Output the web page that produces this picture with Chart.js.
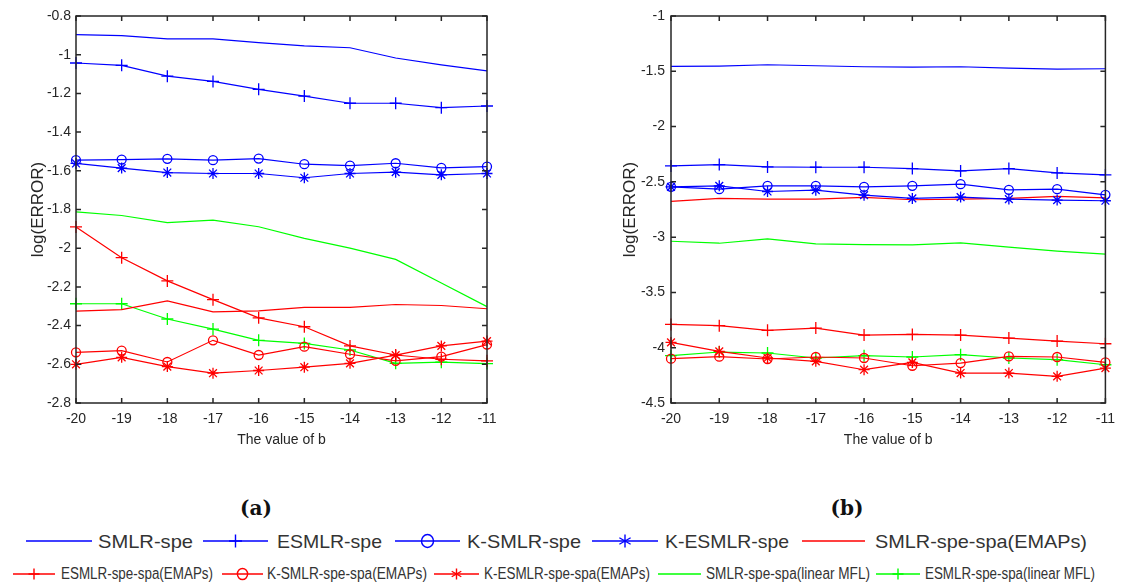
<!DOCTYPE html>
<html><head><meta charset="utf-8">
<script src="https://cdn.jsdelivr.net/npm/chart.js@4/dist/chart.umd.min.js"></script>
<style>
body{margin:0;background:#fff;width:1123px;height:588px;position:relative;overflow:hidden;font-family:"Liberation Sans",Arial,sans-serif;}
.cv{position:absolute;top:0;}
.cap{position:absolute;font-family:"DejaVu Serif","Liberation Serif",serif;font-weight:bold;font-size:20px;color:#111;transform:translate(-50%,-50%);}
.lg{position:absolute;white-space:nowrap;transform-origin:0 50%;line-height:1;}
.r1{font-size:19px;color:#333;}
.r2{font-size:16px;color:#333;}
svg.smp{position:absolute;overflow:visible;}
</style></head>
<body>
<canvas id="ca" class="cv" width="517" height="460" style="left:0px"></canvas>
<canvas id="cb" class="cv" width="560" height="460" style="left:563px"></canvas>
<div class="cap" style="left:256px;top:508px">(a)</div>
<div class="cap" style="left:847px;top:508px">(b)</div>
<div id="legend"></div>
<script>
// ---- data ----
const bValues = [-20, -19, -18, -17, -16, -15, -14, -13, -12, -11];
const seriesNames = ['SMLR-spe','ESMLR-spe','K-SMLR-spe','K-ESMLR-spe','SMLR-spe-spa(EMAPs)',
  'ESMLR-spe-spa(EMAPs)','K-SMLR-spe-spa(EMAPs)','K-ESMLR-spe-spa(EMAPs)','SMLR-spe-spa(linear MFL)','ESMLR-spe-spa(linear MFL)'];

// panel (a)
const aSMLR      = [-0.896,-0.901,-0.918,-0.918,-0.938,-0.954,-0.964,-1.017,-1.053,-1.084];
const aESMLR     = [-1.043,-1.055,-1.111,-1.138,-1.179,-1.214,-1.251,-1.251,-1.274,-1.265];
const aKSMLR     = [-1.545,-1.542,-1.538,-1.545,-1.537,-1.566,-1.573,-1.561,-1.585,-1.578];
const aKESMLR    = [-1.562,-1.586,-1.609,-1.614,-1.614,-1.636,-1.614,-1.607,-1.621,-1.614];
const aSMLRemap  = [-2.325,-2.317,-2.272,-2.329,-2.324,-2.306,-2.306,-2.291,-2.296,-2.313];
const aESMLRemap = [-1.890,-2.049,-2.169,-2.266,-2.360,-2.406,-2.505,-2.552,-2.574,-2.582];
const aKSMLRemap = [-2.538,-2.529,-2.588,-2.476,-2.552,-2.509,-2.548,-2.582,-2.560,-2.498];
const aKESMLRemap= [-2.600,-2.564,-2.612,-2.646,-2.632,-2.615,-2.595,-2.553,-2.505,-2.480];
const aSMLRmfl   = [-1.812,-1.831,-1.868,-1.855,-1.889,-1.949,-2.000,-2.058,-2.180,-2.302];
const aESMLRmfl  = [-2.287,-2.287,-2.366,-2.418,-2.476,-2.492,-2.526,-2.595,-2.589,-2.596];

// panel (b)
const bSMLR      = [-1.456,-1.453,-1.441,-1.450,-1.459,-1.462,-1.459,-1.471,-1.480,-1.477];
const bESMLR     = [-2.356,-2.344,-2.365,-2.368,-2.368,-2.380,-2.401,-2.380,-2.419,-2.437];
const bKSMLR     = [-2.545,-2.566,-2.536,-2.536,-2.545,-2.536,-2.521,-2.572,-2.566,-2.617];
const bKESMLR    = [-2.545,-2.536,-2.587,-2.575,-2.620,-2.650,-2.638,-2.656,-2.665,-2.671];
const bSMLRemap  = [-2.677,-2.650,-2.656,-2.656,-2.641,-2.662,-2.656,-2.650,-2.632,-2.644];
const bESMLRemap = [-3.789,-3.801,-3.843,-3.822,-3.886,-3.880,-3.886,-3.913,-3.940,-3.964];
const bKSMLRemap = [-4.099,-4.081,-4.102,-4.084,-4.093,-4.163,-4.139,-4.078,-4.084,-4.133];
const bKESMLRemap= [-3.952,-4.033,-4.093,-4.123,-4.199,-4.133,-4.229,-4.229,-4.259,-4.184];
const bSMLRmfl   = [-3.037,-3.055,-3.016,-3.061,-3.067,-3.070,-3.052,-3.091,-3.127,-3.154];
const bESMLRmfl  = [-4.072,-4.039,-4.048,-4.093,-4.072,-4.084,-4.063,-4.093,-4.108,-4.154];

const aTicks = [-2.8,-2.6,-2.4,-2.2,-2,-1.8,-1.6,-1.4,-1.2,-1,-0.8];
const bTicks = [-4.5,-4,-3.5,-3,-2.5,-2,-1.5,-1];

// ---- styles ----
const BLUE='#0000ff', RED='#ff0000', GREEN='#00ff00';
const seriesColors = [BLUE,BLUE,BLUE,BLUE,RED,RED,RED,RED,GREEN,GREEN];
const seriesMarkers = [false,'cross','circle','star',false,'cross','circle','star',false,'cross'];
const markerRadius = {cross:6, circle:4.5, star:5.5};

function datasets(arrs){
  return arrs.map((d,i)=>({
    label: seriesNames[i], data: d,
    borderColor: seriesColors[i], backgroundColor: 'rgba(0,0,0,0)',
    borderWidth: 1.2, tension: 0,
    pointStyle: seriesMarkers[i] || 'circle',
    pointRadius: seriesMarkers[i] ? markerRadius[seriesMarkers[i]] : 0,
    pointBorderColor: seriesColors[i], pointBackgroundColor:'rgba(0,0,0,0)',
    pointBorderWidth: 1.3, pointHoverRadius: 0
  }));
}

const framePlugin = {
  id:'frame',
  afterDraw(chart){
    const {ctx, chartArea:a, scales} = chart;
    ctx.save();
    ctx.strokeStyle='#262626'; ctx.lineWidth=1.5;
    ctx.strokeRect(a.left, a.top, a.right-a.left, a.bottom-a.top);
    const L=5;
    scales.x.ticks.forEach((t,i)=>{
      const x=scales.x.getPixelForTick(i);
      ctx.beginPath(); ctx.moveTo(x,a.bottom); ctx.lineTo(x,a.bottom-L);
      ctx.moveTo(x,a.top); ctx.lineTo(x,a.top+L); ctx.stroke();
    });
    scales.y.ticks.forEach((t,i)=>{
      const y=scales.y.getPixelForTick(i);
      ctx.beginPath(); ctx.moveTo(a.left,y); ctx.lineTo(a.left+L,y);
      ctx.moveTo(a.right,y); ctx.lineTo(a.right-L,y); ctx.stroke();
    });
    ctx.restore();
  }
};

function makeChart(id, arrs, ticks, yWidth, yTitlePad, rightPad, tickPad){
  const fam = '"Liberation Sans", Arial, sans-serif';
  new Chart(document.getElementById(id), {
    type:'line',
    data:{ labels: bValues.map(String), datasets: datasets(arrs) },
    options:{
      responsive:false, animation:false, devicePixelRatio:1,
      layout:{padding:{top:16,right:rightPad,left:0,bottom:0}},
      plugins:{legend:{display:false}, tooltip:{enabled:false}},
      scales:{
        x:{ type:'category', offset:false,
            grid:{display:false, drawTicks:false}, border:{display:false},
            ticks:{color:'#262626', font:{family:fam,size:14}, padding:8, maxRotation:0, autoSkip:false},
            title:{display:true, text:'The value of b', color:'#262626',
                   font:{family:fam, size:14}, padding:{top:0,bottom:11}},
            afterFit(s){ s.height = 57; } },
        y:{ min: ticks[0], max: ticks[ticks.length-1],
            grid:{display:false, drawTicks:false}, border:{display:false},
            afterBuildTicks(s){ s.ticks = ticks.map(v=>({value:v})); },
            ticks:{color:'#262626', font:{family:fam,size:14}, padding:tickPad,
                   callback:(v)=>String(Number(Number(v).toFixed(2)))},
            title:{display:true, text:'log(ERROR)', color:'#262626',
                   font:{family:fam, size:17}, padding:{top:yTitlePad,bottom:0}},
            afterFit(s){ s.width = yWidth; } }
      }
    },
    plugins:[framePlugin]
  });
}

makeChart('ca', [aSMLR,aESMLR,aKSMLR,aKESMLR,aSMLRemap,aESMLRemap,aKSMLRemap,aKESMLRemap,aSMLRmfl,aESMLRmfl], aTicks, 76, 28, 30, 5);
makeChart('cb', [bSMLR,bESMLR,bKSMLR,bKESMLR,bSMLRemap,bESMLRemap,bKSMLRemap,bKESMLRemap,bSMLRmfl,bESMLRmfl], bTicks, 108, 57, 11, 6);

// ---- legend ----
const legendRows = [
  {cls:'r1', y:541, items:[0,1,2,3,4], sx:[26,203,395,592,802], sw:[66,65,65,66,63],
   tx:[98,277,467,665,875], tw:[95,105,114,124,212], mk:1},
  {cls:'r2', y:574, items:[5,6,7,8,9], sx:[13,222,434,658,876], sw:[42,41,45,43,44],
   tx:[61,267,484,706,925], tw:[152,160,166,164,170], mk:0.85}
];
const NS='http://www.w3.org/2000/svg';
const lg=document.getElementById('legend');
legendRows.forEach(row=>{
  row.items.forEach((si,k)=>{
    const w=row.sw[k];
    const svg=document.createElementNS(NS,'svg');
    svg.setAttribute('class','smp');
    svg.setAttribute('width',w); svg.setAttribute('height',20);
    svg.style.left=row.sx[k]+'px'; svg.style.top=(row.y-10)+'px';
    const c=seriesColors[si];
    let h='<line x1="0" y1="10" x2="'+w+'" y2="10" stroke="'+c+'" stroke-width="1.4"/>';
    const cx=w/2, m=seriesMarkers[si], s=row.mk;
    if(m==='cross'){ const r=6.5*s; h+='<path d="M'+cx+' '+(10-r)+'V'+(10+r)+'M'+(cx-r)+' 10H'+(cx+r)+'" stroke="'+c+'" stroke-width="1.4"/>'; }
    if(m==='circle'){ h+='<ellipse cx="'+cx+'" cy="10" rx="'+(6*s)+'" ry="'+(6.5*s)+'" fill="none" stroke="'+c+'" stroke-width="1.4"/>'; }
    if(m==='star'){ const r=6.5*s; let p='M'+cx+' '+(10-r)+'V'+(10+r);
      [30,150].forEach(a=>{const dx=r*Math.cos(a*Math.PI/180), dy=r*Math.sin(a*Math.PI/180);
        p+='M'+(cx-dx)+' '+(10-dy)+'L'+(cx+dx)+' '+(10+dy);});
      h+='<path d="'+p+'" stroke="'+c+'" stroke-width="1.4"/>'; }
    svg.innerHTML=h;
    lg.appendChild(svg);
    const t=document.createElement('div');
    t.className='lg '+row.cls; t.textContent=seriesNames[si];
    t.style.left=row.tx[k]+'px'; t.style.top=row.y+'px';
    lg.appendChild(t);
    const natural=t.getBoundingClientRect().width;
    const sc=row.tw[k]/natural;
    t.style.transform='translateY(-50%) scaleX('+sc+')';
  });
});
</script>
</body></html>
